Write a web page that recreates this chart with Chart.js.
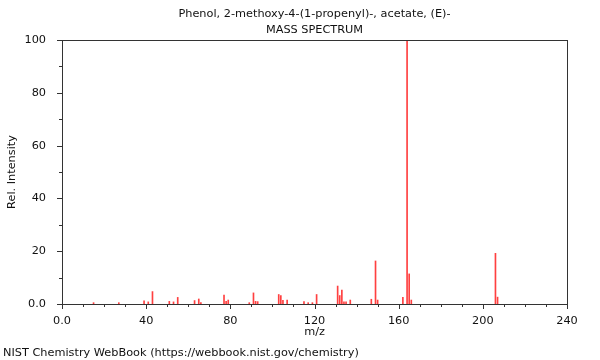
<!DOCTYPE html>
<html>
<head>
<meta charset="utf-8">
<script src="https://cdn.jsdelivr.net/npm/chart.js@4.4.1/dist/chart.umd.min.js"></script>
<style>
  html, body { margin: 0; padding: 0; background: #fff; }
  #wrap { width: 600px; height: 360px; position: relative; }
</style>
</head>
<body>
<div id="wrap"><canvas id="chartMS"></canvas></div>
<script>
const titleLines = ['Phenol, 2-methoxy-4-(1-propenyl)-, acetate, (E)-', 'MASS SPECTRUM'];
const footerText = 'NIST Chemistry WebBook (https://webbook.nist.gov/chemistry)';

// m/z and relative intensity
const mz = [15, 27, 39, 41, 43, 51, 53, 55, 63, 65, 66, 77, 78, 79, 89, 91, 92, 93,
  103, 104, 105, 107, 115, 117, 119, 121, 131, 132, 133, 134, 135, 137,
  147, 149, 150, 162, 164, 165, 166, 206, 207];
const intensity = [0.5, 0.5, 1.2, 0.8, 4.7, 1.0, 0.8, 2.5, 1.3, 1.9, 0.5, 3.4, 1.0, 1.5, 0.5, 4.2, 1.0, 0.9,
  3.6, 3.2, 1.4, 1.5, 0.9, 0.5, 0.5, 3.6, 6.8, 3.2, 5.3, 0.8, 0.8, 1.5,
  1.8, 16.3, 1.5, 2.5, 100, 11.4, 1.5, 19.2, 2.6];

const xTicks = [0, 40, 80, 120, 160, 200, 240];
const yTicks = [0, 20, 40, 60, 80, 100];

const fontFam = '"DejaVu Sans", sans-serif';
const fontSize = 11.3;

// frame, tick marks, title over the plot and footer
const framePlugin = {
  id: 'frame',
  afterDraw(chart) {
    const { ctx, chartArea: a, scales } = chart;
    ctx.save();
    ctx.strokeStyle = '#333';
    ctx.lineWidth = 1;
    ctx.strokeRect(Math.round(a.left) + 0.5, Math.round(a.top) + 0.5,
      Math.round(a.right - a.left), Math.round(a.bottom - a.top));
    ctx.beginPath();
    for (let v = 0; v <= 240; v += 10) {
      const px = Math.round(scales.x.getPixelForValue(v)) + 0.5;
      const len = xTicks.includes(v) ? 5 : 3;
      ctx.moveTo(px, a.bottom);
      ctx.lineTo(px, a.bottom + len);
    }
    for (let v = 0; v <= 100; v += 10) {
      const py = Math.round(scales.y.getPixelForValue(v)) + 0.5;
      const len = yTicks.includes(v) ? 5 : 3;
      ctx.moveTo(a.left, py);
      ctx.lineTo(a.left - len, py);
    }
    ctx.stroke();
    ctx.fillStyle = '#111';
    ctx.font = fontSize + 'px ' + fontFam;
    ctx.textBaseline = 'middle';
    ctx.textAlign = 'center';
    const cx = (a.left + a.right) / 2;
    ctx.fillText(titleLines[0], cx, 14);
    ctx.fillText(titleLines[1], cx, 30.5);
    ctx.textAlign = 'left';
    ctx.fillText(footerText, 3, 353);
    ctx.restore();
  }
};

const ctx = document.getElementById('chartMS').getContext('2d');
new Chart(ctx, {
  type: 'bar',
  data: {
    datasets: [{
      data: mz.map((m, i) => ({ x: m, y: intensity[i] })),
      backgroundColor: 'rgba(255, 30, 30, 0.85)',
      borderWidth: 0,
      barThickness: 1
    }]
  },
  options: {
    responsive: true,
    maintainAspectRatio: false,
    animation: false,
    layout: { padding: { top: 40, right: 33, bottom: 21, left: 0 } },
    scales: {
      x: {
        type: 'linear',
        min: 0,
        max: 240,
        offset: false,
        grid: { display: false },
        border: { display: false },
        afterBuildTicks: s => { s.ticks = xTicks.map(v => ({ value: v })); },
        afterFit: s => { s.height = 35; },
        ticks: {
          autoSkip: false,
          maxRotation: 0,
          padding: 2,
          color: '#111',
          font: { family: fontFam, size: fontSize },
          callback: v => v === 0 ? '0.0' : String(v)
        },
        title: {
          display: true,
          text: 'm/z',
          color: '#111',
          font: { family: fontFam, size: fontSize },
          padding: { top: 0, bottom: 0 }
        }
      },
      y: {
        min: 0,
        max: 100,
        grid: { display: false },
        border: { display: false },
        afterBuildTicks: s => { s.ticks = yTicks.map(v => ({ value: v })); },
        afterFit: s => { s.width = 62; },
        ticks: {
          padding: 8,
          color: '#111',
          font: { family: fontFam, size: fontSize },
          callback: v => v === 0 ? '0.0' : String(v)
        },
        title: {
          display: true,
          text: 'Rel. Intensity',
          color: '#111',
          font: { family: fontFam, size: fontSize },
          padding: { top: 5, bottom: 0 }
        }
      }
    },
    plugins: {
      legend: { display: false },
      tooltip: { enabled: false },
      title: { display: false }
    }
  },
  plugins: [framePlugin]
});
</script>
</body>
</html>
